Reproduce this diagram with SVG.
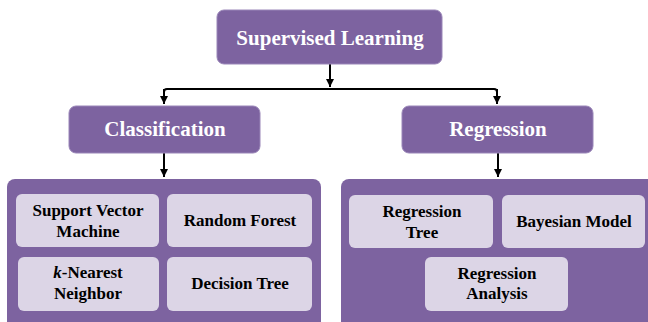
<svg xmlns="http://www.w3.org/2000/svg" width="648" height="322" viewBox="0 0 648 322">
<defs>
<marker id="ah" viewBox="0 0 10 10" refX="10" refY="5" markerWidth="4" markerHeight="4.5" orient="auto" markerUnits="strokeWidth">
<path d="M0,0 L10,5 L0,10 Z" fill="#000"/>
</marker>
</defs>
<style>
.p{fill:#7D63A0;stroke:#9A86B8;stroke-width:1}
.c{fill:#7D63A0}
.i{fill:#DCD5E6}
text{font-family:'Liberation Serif','Times New Roman','DejaVu Serif',serif;font-weight:bold;text-anchor:middle}
.t{fill:#fff;font-size:21px}
.s{fill:#000;font-size:17px}
.l{fill:none;stroke:#000;stroke-width:2}
</style>
<rect width="648" height="322" fill="#fff"/>
<g id="connectors">
<path class="l" d="M330,64 V87" marker-end="url(#ah)"/>
<path class="l" d="M164,104 V92 Q164,89 167,89 H494 Q497,89 497,92 V104"/>
<path class="l" d="M164,89 V104" marker-end="url(#ah)"/>
<path class="l" d="M497,89 V104" marker-end="url(#ah)"/>
<path class="l" d="M164,153 V177" marker-end="url(#ah)"/>
<path class="l" d="M498,153 V177" marker-end="url(#ah)"/>
</g>
<g id="supervised-learning">
<rect class="p" x="217" y="10" width="225" height="54" rx="7"/>
<text class="t" x="330" y="45">Supervised Learning</text>
</g>
<g id="classification">
<rect class="p" x="69" y="106" width="191" height="47" rx="7"/>
<text class="t" x="165" y="136">Classification</text>
</g>
<g id="regression">
<rect class="p" x="402" y="106" width="191" height="47" rx="7"/>
<text class="t" x="498" y="136">Regression</text>
</g>
<g id="classification-methods">
<rect class="c" x="7" y="179" width="314" height="160" rx="8"/>
</g>
<g id="regression-methods">
<rect class="c" x="341" y="179" width="320" height="160" rx="8"/>
</g>
<g id="svm">
<rect class="i" x="16" y="194" width="143" height="53" rx="6"/>
<text class="s" x="88" y="216">Support Vector</text>
<text class="s" x="88" y="237">Machine</text>
</g>
<g id="random-forest">
<rect class="i" x="167" y="194" width="145" height="53" rx="6"/>
<text class="s" x="240" y="226">Random Forest</text>
</g>
<g id="knn">
<rect class="i" x="18" y="257" width="141" height="54" rx="6"/>
<text class="s" x="88" y="278"><tspan font-style="italic">k</tspan>-Nearest</text>
<text class="s" x="88" y="299">Neighbor</text>
</g>
<g id="decision-tree">
<rect class="i" x="167" y="257" width="145" height="54" rx="6"/>
<text class="s" x="240" y="289">Decision Tree</text>
</g>
<g id="regression-tree">
<rect class="i" x="349" y="195" width="144" height="53" rx="6"/>
<text class="s" x="422" y="217">Regression</text>
<text class="s" x="422" y="238">Tree</text>
</g>
<g id="bayesian-model">
<rect class="i" x="502" y="195" width="143" height="53" rx="6"/>
<text class="s" x="574" y="227">Bayesian Model</text>
</g>
<g id="regression-analysis">
<rect class="i" x="425" y="257" width="143" height="54" rx="6"/>
<text class="s" x="497" y="279">Regression</text>
<text class="s" x="497" y="299">Analysis</text>
</g>
</svg>
